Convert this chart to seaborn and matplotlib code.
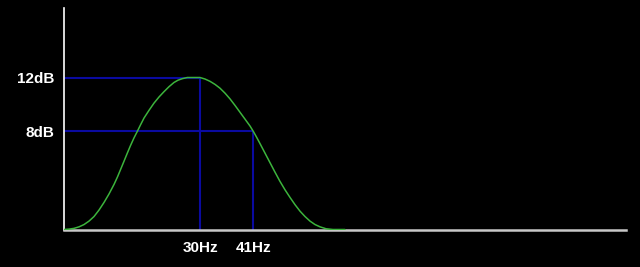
import matplotlib
matplotlib.use("Agg")
import matplotlib.pyplot as plt
import seaborn as sns
import pandas as pd

# Response curve (frequency in Hz, linear amplitude)
freq_hz = [1.77, 2.81, 3.85, 4.89, 5.92, 6.96, 8.00, 9.04, 10.08, 11.11,
           12.15, 12.88, 13.54, 14.23, 14.91, 15.58, 16.30, 16.99, 17.65, 18.38,
           19.41, 20.45, 21.49, 22.53, 23.57, 24.60, 25.43, 26.33, 27.36, 29.44,
           30.00, 31.04, 32.08, 33.11, 34.15, 35.19, 36.23, 37.26, 38.30, 39.34,
           40.38, 41.06, 41.73, 42.45, 43.49, 44.53, 45.57, 46.60, 47.64, 48.68,
           49.72, 50.76, 51.79, 52.83, 53.87, 54.91, 56.15, 57.60, 60.09]
amplitude = [0.00, 0.01, 0.03, 0.07, 0.13, 0.22, 0.34, 0.51, 0.71, 0.93,
             1.18, 1.38, 1.58, 1.79, 2.00, 2.20, 2.40, 2.57, 2.74, 2.92,
             3.12, 3.31, 3.47, 3.61, 3.74, 3.85, 3.91, 3.95, 3.98, 3.98,
             3.98, 3.94, 3.88, 3.80, 3.70, 3.57, 3.42, 3.25, 3.07, 2.89,
             2.71, 2.57, 2.42, 2.25, 2.00, 1.75, 1.50, 1.26, 1.04, 0.84,
             0.65, 0.48, 0.34, 0.22, 0.13, 0.07, 0.02, 0.00, 0.00]

# Marker points (frequency, level) and their labels
marker_freqs = [30.0, 41.06]
marker_levels = [3.98, 2.57]
x_tick_labels = ["30Hz", "41Hz"]
y_tick_labels = ["12dB", "8dB"]

x_min, x_max = 1.77, 118.4
y_min, y_max = 0.0, 5.80

df = pd.DataFrame({"freq": freq_hz, "amp": amplitude})

sns.set_style("dark")
plt.rcParams["font.family"] = ["Liberation Sans", "DejaVu Sans"]

fig = plt.figure(figsize=(6.4, 2.67), dpi=100, facecolor="black")
ax = fig.add_axes([0.1, 0.1404, 0.878, 0.8296])
ax.set_facecolor("black")

guide_color = "#0a0aa0"
for f, lv in zip(marker_freqs, marker_levels):
    ax.plot([x_min, f], [lv, lv], color=guide_color, lw=1.5, zorder=2,
            solid_capstyle="butt")
    ax.plot([f, f], [y_min, lv], color=guide_color, lw=1.5, zorder=2,
            solid_capstyle="butt")

sns.lineplot(data=df, x="freq", y="amp", ax=ax, color="#3cb43c", lw=1.1,
             zorder=3)

ax.set_xlim(x_min, x_max)
ax.set_ylim(y_min, y_max)
ax.set_xticks(marker_freqs)
ax.set_xticklabels(x_tick_labels)
ax.set_yticks(marker_levels)
ax.set_yticklabels(y_tick_labels)
ax.set_xlabel("")
ax.set_ylabel("")
ax.grid(False)
ax.tick_params(axis="both", length=0, colors="white", labelsize=11)
ax.tick_params(axis="y", pad=7)
ax.tick_params(axis="x", pad=8)
for lab in ax.get_xticklabels() + ax.get_yticklabels():
    lab.set_fontweight("bold")
    lab.set_color("white")

for side in ["top", "right"]:
    ax.spines[side].set_visible(False)
ax.spines["left"].set_color("white")
ax.spines["left"].set_linewidth(1.2)
ax.spines["bottom"].set_color("#c8c8c8")
ax.spines["bottom"].set_linewidth(1.8)

fig.savefig("out.png", dpi=100, facecolor="black")
